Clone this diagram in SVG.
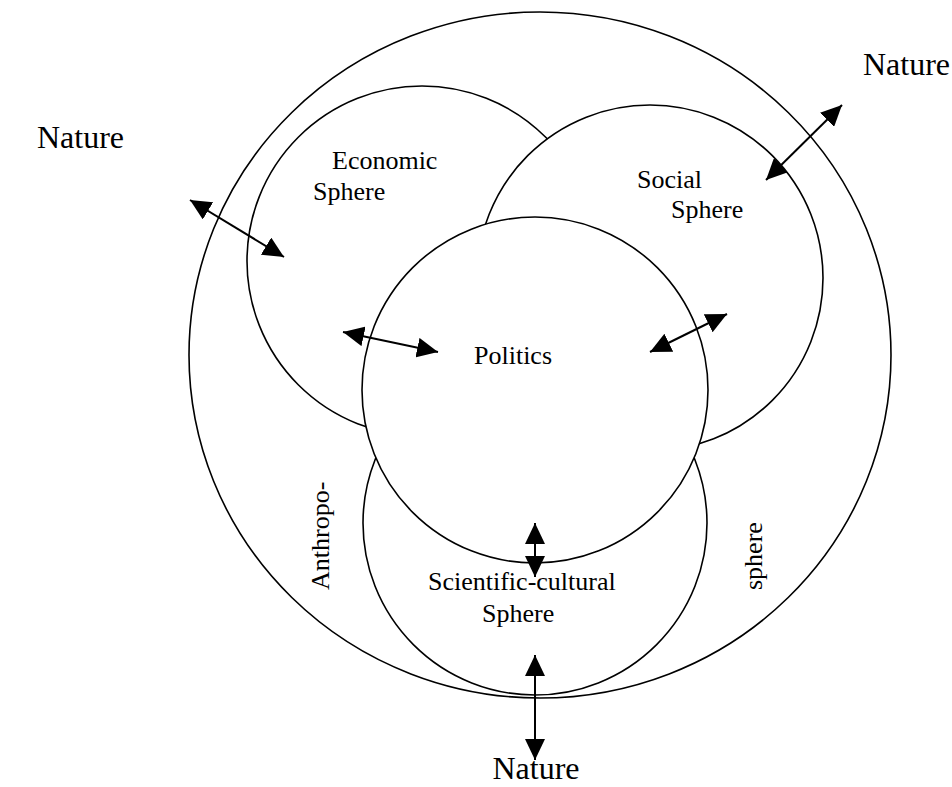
<svg xmlns="http://www.w3.org/2000/svg" width="952" height="787" viewBox="0 0 952 787">
<style>
.c{fill:#fff;stroke:#000;stroke-width:1.6}
.o{fill:none;stroke:#000;stroke-width:1.6}
.t{font-family:"Liberation Serif","Times New Roman",serif;font-size:26px;fill:#000}
.n{font-family:"Liberation Serif","Times New Roman",serif;font-size:32px;fill:#000}
.a{stroke:#000;stroke-width:2;fill:none;marker-start:url(#h);marker-end:url(#h)}
</style>
<defs>
<marker id="h" viewBox="0 0 21 20" refX="21" refY="10" markerWidth="21" markerHeight="20" markerUnits="userSpaceOnUse" orient="auto-start-reverse">
<path d="M0,0 L21,10 L0,20 z" fill="#000"/>
</marker>
</defs>
<rect width="952" height="787" fill="#fff"/>
<g id="anthroposphere">
<ellipse class="o" cx="540" cy="355" rx="351" ry="343"/>
<text class="t" transform="translate(329,590) rotate(-90)">Anthropo-</text>
<text class="t" transform="translate(762,590) rotate(-90)">sphere</text>
</g>
<g id="economic">
<circle class="c" cx="422" cy="261" r="175"/>
<text class="t" x="332" y="169">Economic</text>
<text class="t" x="313" y="200">Sphere</text>
</g>
<g id="social">
<circle class="c" cx="650" cy="278" r="173"/>
<text class="t" x="637" y="188">Social</text>
<text class="t" x="671" y="218">Sphere</text>
</g>
<g id="scientific">
<circle class="c" cx="535" cy="523" r="172"/>
<text class="t" x="428" y="590">Scientific-cultural</text>
<text class="t" x="482" y="622">Sphere</text>
</g>
<g id="politics">
<circle class="c" cx="535" cy="390" r="173"/>
<text class="t" x="474" y="364">Politics</text>
</g>
<g id="nature-left"><text class="n" x="37" y="148">Nature</text></g>
<g id="nature-right"><text class="n" x="863" y="75">Nature</text></g>
<g id="nature-bottom"><text class="n" x="536" y="779" text-anchor="middle">Nature</text></g>
<g id="connectors">
<line class="a" x1="190" y1="200" x2="284" y2="257"/>
<line class="a" x1="343" y1="332" x2="438" y2="352"/>
<line class="a" x1="650" y1="352" x2="727" y2="314"/>
<line class="a" x1="766" y1="180" x2="842" y2="105"/>
<line class="a" x1="535" y1="523" x2="535" y2="577"/>
<line class="a" x1="535" y1="655" x2="535" y2="760"/>
</g>
</svg>
